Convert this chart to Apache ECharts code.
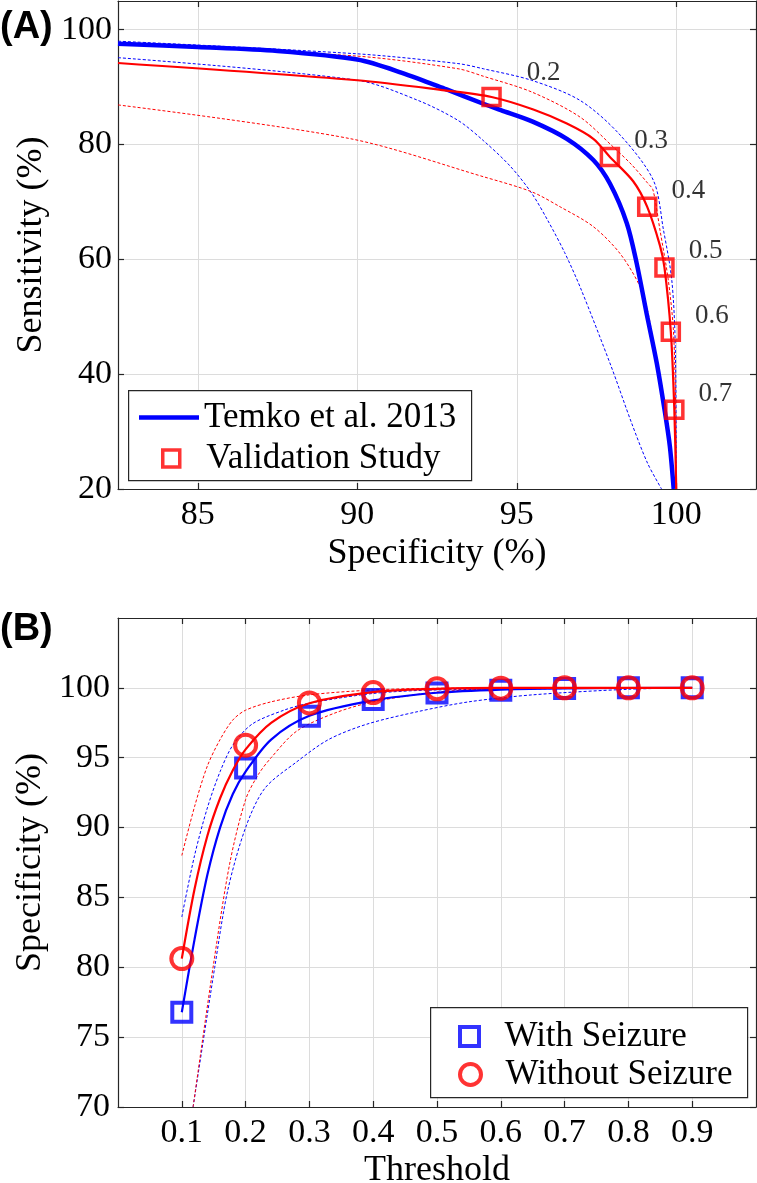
<!DOCTYPE html>
<html><head><meta charset="utf-8">
<script src="https://cdn.jsdelivr.net/npm/echarts@6/dist/echarts.min.js"></script>
<style>html,body{margin:0;padding:0;background:#fff}#c{width:757px;height:1183px}</style>
</head><body><div id="c"></div>
<script>
// ---------- Panel A: Sensitivity vs Specificity ----------
const aXTicks = [85, 90, 95, 100];
const aYTicks = [20, 40, 60, 80, 100];
const temkoSpec = [82.5, 85, 87.5, 90, 91.4, 92.8, 93.95, 94.5, 95.5, 96.57, 97.4, 97.92, 98.45, 98.76, 99.07, 99.39, 99.65, 99.8, 99.92];
const temkoSens = [97.56, 97.0, 96.3, 94.8, 92.5, 89.6, 87.1, 86.0, 84.0, 81.0, 77.3, 73.2, 66.3, 59.3, 50.6, 41.9, 33.2, 27.4, 20];
const temkoUpSpec = [82.5, 90, 93.16, 93.95, 95.47, 96.98, 98.2, 99.28, 99.6, 99.86, 99.97, 100];
const temkoUpSens = [98.0, 95.8, 94.1, 93.2, 91.18, 87.7, 81.9, 73.8, 65.1, 56.4, 44.8, 20];
const temkoLoSpec = [82.5, 90, 91.9, 93.16, 93.95, 94.8, 95.47, 96.0, 96.5, 97.0, 97.95, 98.6, 99.1, 99.54];
const temkoLoSens = [95.13, 91.2, 87.7, 84.2, 80.7, 76.2, 71.5, 66.5, 61.2, 55.0, 41.5, 31.5, 24.5, 20];
const valLineSpec = [82.5, 90, 92.74, 94.21, 95.52, 96.57, 97.4, 97.92, 98.65, 99.09, 99.49, 99.63, 99.83, 99.94, 100];
const valLineSens = [94.2, 91.2, 89.44, 88.28, 86.1, 83.65, 81.0, 77.84, 73.6, 69.15, 62.4, 58.6, 47.4, 33.8, 20];
const valUpSpec = [82.5, 90, 93.16, 93.95, 95.47, 96.98, 98.02, 98.6, 99.1, 99.27, 99.49, 99.75, 99.91, 99.98, 100];
const valUpSens = [97.56, 95.4, 93.2, 91.9, 89.15, 84.8, 79.6, 76.5, 73.3, 72.1, 65.1, 56.4, 47.7, 35, 20];
const valLoSpec = [82.5, 89.8, 93.95, 95.47, 96.36, 97.4, 98.24, 98.87, 99.12, 99.39, 99.65, 99.92];
const valLoSens = [86.9, 81.0, 74.4, 71.76, 69.15, 65.7, 61.0, 55.2, 50.6, 41.9, 33.2, 20];
const valThresh = ['0.2', '0.3', '0.4', '0.5', '0.6', '0.7'];
const valSpec = [94.21, 97.92, 99.09, 99.63, 99.83, 99.94];
const valSens = [88.28, 77.84, 69.15, 58.6, 47.4, 33.8];

// ---------- Panel B: Specificity vs Threshold ----------
const bXTicks = [0.1, 0.2, 0.3, 0.4, 0.5, 0.6, 0.7, 0.8, 0.9];
const bYTicks = [70, 75, 80, 85, 90, 95, 100];
const thresholds = [0.1, 0.2, 0.3, 0.4, 0.5, 0.6, 0.7, 0.8, 0.9];
const withSeizure = [76.78, 94.26, 97.96, 99.16, 99.64, 99.83, 99.95, 100, 100];
const withoutSeizure = [80.62, 95.9, 98.92, 99.66, 99.93, 99.97, 100, 100, 100];
const wsFitX = [0.1, 0.12, 0.14, 0.16, 0.18, 0.2, 0.24, 0.3, 0.4, 0.5, 0.6, 0.7, 0.9];
const wsFitY = [76.78, 82.0, 86.6, 90.0, 92.4, 94.0, 96.3, 98.0, 99.1, 99.65, 99.88, 99.97, 100];
const wsUpX = [0.1, 0.12, 0.14, 0.16, 0.18, 0.21, 0.26, 0.3, 0.4, 0.5, 0.9];
const wsUpY = [83.6, 88.0, 91.4, 94.0, 95.9, 97.4, 98.4, 98.9, 99.6, 99.85, 100];
const wsLoX = [0.1177, 0.1516, 0.172, 0.2, 0.23, 0.28, 0.33, 0.39, 0.47, 0.55, 0.65, 0.8, 0.9];
const wsLoY = [70, 80, 85.5, 90, 92.8, 94.7, 96.3, 97.4, 98.3, 99.0, 99.5, 99.9, 100];
const wosFitX = [0.1, 0.12, 0.14, 0.16, 0.18, 0.2, 0.24, 0.3, 0.4, 0.5, 0.6, 0.9];
const wosFitY = [80.62, 85.6, 89.4, 92.1, 94.1, 95.6, 97.5, 98.9, 99.7, 99.93, 100, 100];
const wosUpX = [0.1, 0.12, 0.14, 0.16, 0.18, 0.2, 0.24, 0.3, 0.4, 0.5, 0.9];
const wosUpY = [88.0, 91.5, 94.4, 96.3, 97.7, 98.4, 99.0, 99.5, 99.85, 99.97, 100];
const wosLoX = [0.1177, 0.149, 0.175, 0.2, 0.22, 0.24, 0.28, 0.34, 0.4, 0.5, 0.6, 0.9];
const wosLoY = [70, 80, 87.4, 92.0, 93.8, 95.0, 96.9, 98.2, 99.0, 99.7, 99.93, 100];

// ---------- styles (not data) ----------
const FONT = 'Liberation Serif';
const BLUE = '#0000ff', RED = '#ff0000', AXIS = '#262626', GRID = '#dcdcdc';
const labelNudge = [[11, -8], [0, 0], [0, 0], [0, 0], [0, 0], [0, 0]];
const SQUARE = 'path://M0,0L20,0L20,20L0,20Z';
const TICK_FS = 34, NAME_FS = 36, LEG_FS = 35;

function zip(xs, ys) { return xs.map((x, i) => [x, ys[i]]); }

function mainAxis(gridIndex, min, max, ticks, pos, labelMargin, name, nameGap) {
  return {
    type: 'value', gridIndex, min, max, position: pos,
    name, nameLocation: 'middle', nameGap,
    nameTextStyle: { fontFamily: FONT, fontSize: NAME_FS, color: '#000' },
    axisLine: { show: true, onZero: false, lineStyle: { color: AXIS, width: 1.2 } },
    axisTick: { show: true, inside: true, length: 6, customValues: ticks, lineStyle: { color: AXIS, width: 1.2 } },
    axisLabel: { show: true, customValues: ticks, margin: labelMargin, fontFamily: FONT, fontSize: TICK_FS, color: '#000' },
    splitLine: { show: true, lineStyle: { color: GRID, width: 1 } }
  };
}
function boxAxis(gridIndex, min, max, ticks, pos) {
  return {
    type: 'value', gridIndex, min, max, position: pos,
    axisLine: { show: true, onZero: false, lineStyle: { color: AXIS, width: 1.2 } },
    axisTick: { show: true, inside: true, length: 6, customValues: ticks, lineStyle: { color: AXIS, width: 1.2 } },
    axisLabel: { show: false, customValues: ticks },
    splitLine: { show: false }
  };
}
function dashLine(xi, yi, data, color) {
  return { type: 'line', xAxisIndex: xi, yAxisIndex: yi, data, symbol: 'none', smooth: 0.3, silent: true,
    lineStyle: { color, width: 1, type: [3, 2] }, z: 2 };
}
const legText = { fontFamily: FONT, fontSize: LEG_FS, color: '#000' };

const chart = echarts.init(document.getElementById('c'), null, { renderer: 'canvas' });
chart.setOption({
  animation: false,
  backgroundColor: '#fff',
  grid: [
    { left: 118, top: 1, right: 1, height: 488, containLabel: false, outerBoundsMode: 'none' },
    { left: 118, top: 618, right: 1, height: 489, containLabel: false, outerBoundsMode: 'none' }
  ],
  xAxis: [
    mainAxis(0, 82.5, 102.5, aXTicks, 'bottom', 9, 'Specificity (%)', 47),
    boxAxis(0, 82.5, 102.5, aXTicks, 'top'),
    mainAxis(1, 0, 1, bXTicks, 'bottom', 9, 'Threshold', 46),
    boxAxis(1, 0, 1, bXTicks, 'top')
  ],
  yAxis: [
    mainAxis(0, 20, 105, aYTicks, 'left', 6, 'Sensitivity (%)', 68),
    boxAxis(0, 20, 105, aYTicks, 'right'),
    mainAxis(1, 70, 105, bYTicks, 'left', 8, 'Specificity (%)', 68),
    boxAxis(1, 70, 105, bYTicks, 'right')
  ],
  legend: [
    { data: [{ name: 'Temko et al. 2013', icon: 'rect' }], left: 134, top: 395, itemWidth: 60, itemHeight: 4.5, itemGap: 0,
      itemStyle: { color: BLUE, borderWidth: 0 }, textStyle: legText, selectedMode: false },
    { data: ['Validation Study'], left: 156, top: 436, itemWidth: 60, itemHeight: 17, itemGap: 0, icon: SQUARE,
      itemStyle: { color: 'rgba(0,0,0,0)', borderColor: RED, borderWidth: 3.5 },
      textStyle: legText, selectedMode: false },
    { data: ['With Seizure'], left: 453, top: 1014, itemWidth: 60, itemHeight: 19, itemGap: 0, icon: SQUARE,
      itemStyle: { color: 'rgba(0,0,0,0)', borderColor: BLUE, borderWidth: 4 },
      textStyle: legText, selectedMode: false },
    { data: ['Without Seizure'], left: 453, top: 1052, itemWidth: 60, itemHeight: 21, itemGap: 0, icon: 'circle',
      itemStyle: { color: 'rgba(0,0,0,0)', borderColor: RED, borderWidth: 4 },
      textStyle: legText, selectedMode: false }
  ],
  graphic: [
    { type: 'rect', left: 128, top: 390, shape: { width: 343, height: 90 }, z: 1,
      style: { fill: '#fff', stroke: AXIS, lineWidth: 1.2 } },
    { type: 'rect', left: 430, top: 1007, shape: { width: 317, height: 90 }, z: 1,
      style: { fill: '#fff', stroke: AXIS, lineWidth: 1.2 } },
    { type: 'text', left: 0, top: 9, z: 10,
      style: { text: '(A)', font: 'bold 38px "Liberation Sans"', fill: '#000' } },
    { type: 'text', left: 0, top: 611, z: 10,
      style: { text: '(B)', font: 'bold 38px "Liberation Sans"', fill: '#000' } }
  ],
  series: [
    dashLine(0, 0, zip(temkoUpSpec, temkoUpSens), BLUE),
    dashLine(0, 0, zip(temkoLoSpec, temkoLoSens), BLUE),
    dashLine(0, 0, zip(valUpSpec, valUpSens), RED),
    dashLine(0, 0, zip(valLoSpec, valLoSens), RED),
    { name: 'Temko et al. 2013', type: 'line', xAxisIndex: 0, yAxisIndex: 0, data: zip(temkoSpec, temkoSens),
      symbol: 'none', smooth: 0.3, lineStyle: { color: BLUE, width: 4.5 }, itemStyle: { color: BLUE }, z: 3 },
    { type: 'line', xAxisIndex: 0, yAxisIndex: 0, data: zip(valLineSpec, valLineSens),
      symbol: 'none', smooth: 0.3, lineStyle: { color: RED, width: 2.2 }, z: 4 },
    { name: 'Validation Study', type: 'scatter', xAxisIndex: 0, yAxisIndex: 0,
      data: valSpec.map((x, i) => ({ value: [x, valSens[i]],
        label: { offset: [labelNudge[i][0], -16 + labelNudge[i][1]] } })),
      symbol: 'rect', symbolSize: 17, z: 5,
      itemStyle: { color: 'rgba(0,0,0,0)', borderColor: RED, borderWidth: 3.5 },
      label: { show: true, position: 'right', distance: 14,
        formatter: p => valThresh[p.dataIndex], fontFamily: FONT, fontSize: 27, color: '#000' } },

    dashLine(2, 2, zip(wsUpX, wsUpY), BLUE),
    dashLine(2, 2, zip(wsLoX, wsLoY), BLUE),
    dashLine(2, 2, zip(wosUpX, wosUpY), RED),
    dashLine(2, 2, zip(wosLoX, wosLoY), RED),
    { type: 'line', xAxisIndex: 2, yAxisIndex: 2, data: zip(wsFitX, wsFitY),
      symbol: 'none', smooth: 0.3, lineStyle: { color: BLUE, width: 2.2 }, z: 3 },
    { name: 'With Seizure', type: 'scatter', xAxisIndex: 2, yAxisIndex: 2, data: zip(thresholds, withSeizure),
      symbol: 'rect', symbolSize: 19, z: 4,
      itemStyle: { color: 'rgba(0,0,0,0)', borderColor: BLUE, borderWidth: 4 } },
    { type: 'line', xAxisIndex: 2, yAxisIndex: 2, data: zip(wosFitX, wosFitY),
      symbol: 'none', smooth: 0.3, lineStyle: { color: RED, width: 2.2 }, z: 5 },
    { name: 'Without Seizure', type: 'scatter', xAxisIndex: 2, yAxisIndex: 2, data: zip(thresholds, withoutSeizure),
      symbol: 'circle', symbolSize: 21, z: 6,
      itemStyle: { color: 'rgba(0,0,0,0)', borderColor: RED, borderWidth: 4 } }
  ]
});
</script>
</body></html>
